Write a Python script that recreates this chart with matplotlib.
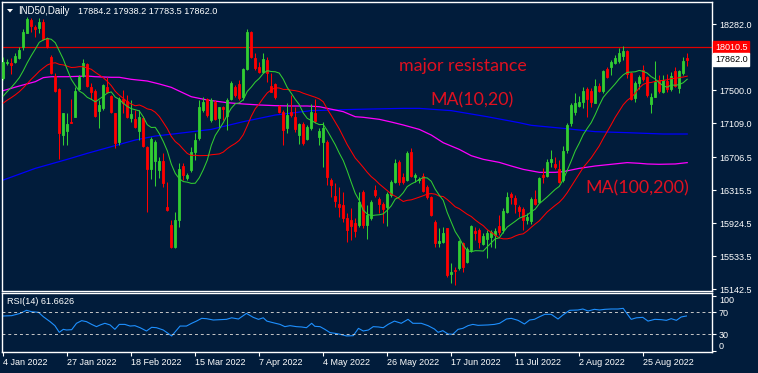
import numpy as np
import matplotlib
matplotlib.use("Agg")
import matplotlib.pyplot as plt
import matplotlib.transforms as mtransforms
from matplotlib.patches import Polygon

# ---------------- data ----------------
dates = ["4 Jan 2022", "27 Jan 2022", "18 Feb 2022", "15 Mar 2022", "7 Apr 2022",
         "4 May 2022", "26 May 2022", "17 Jun 2022", "11 Jul 2022", "2 Aug 2022",
         "25 Aug 2022"]
date_bars = [0, 16, 32, 48, 64, 80, 96, 112, 128, 144, 160]

opens = [17642, 17819, 17819, 17839, 17879, 18017, 18183, 18333, 18254, 18234,
         18313, 18116, 17891, 17669, 17511, 16970, 17022, 17124, 17187, 17511,
         17669, 17811, 17535, 17496, 17255, 17286, 17535, 17432, 17227, 16891,
         17393, 17377, 17168, 17156, 17022, 17168, 16832, 16563, 16662, 16555,
         16662, 16113, 15904, 15639, 15963, 16607, 16457, 16555, 16773, 16931,
         17266, 17393, 17148, 17365, 17168, 17298, 17195, 17393, 17535, 17575,
         17424, 17748, 18195, 17879, 17780, 17721, 17859, 17551, 17575, 17314,
         17247, 17049, 17247, 17187, 16970, 17101, 16919, 17049, 17227, 16943,
         16891, 16891, 16437, 16247, 16153, 16141, 15991, 15963, 15931, 15904,
         16291, 15904, 15983, 16318, 16208, 16153, 16113, 16259, 16417, 16646,
         16476, 16437, 16773, 16469, 16441, 16488, 16358, 16232, 15943, 15686,
         15706, 15864, 15323, 15370, 15390, 15686, 15469, 15607, 15837, 15844,
         15679, 15734, 15765, 15785, 15892, 15844, 16062, 16271, 16220, 16113,
         16089, 15963, 15955, 16208, 16180, 16496, 16484, 16654, 16627, 16563,
         16437, 16792, 17108, 17247, 17314, 17365, 17519, 17496, 17353, 17551,
         17496, 17748, 17772, 17827, 17851, 17906, 17970, 17709, 17405, 17590,
         17740, 17654, 17338, 17424, 17622, 17484, 17610, 17511, 17733, 17523,
         17709, 17884.2]
highs = [17891, 17870, 17879, 17938, 18017, 18222, 18365, 18353, 18274, 18353,
         18341, 18135, 17918, 17701, 17523, 17235, 17227, 17393, 17535, 17681,
         17867, 17819, 17582, 17511, 17385, 17575, 17654, 17444, 17235, 17424,
         17503, 17444, 17385, 17266, 17266, 17195, 16840, 16943, 16911, 16713,
         16753, 16417, 15963, 16062, 16634, 16634, 16524, 16832, 16990, 17385,
         17424, 17405, 17405, 17385, 17306, 17314, 17405, 17610, 17563, 17622,
         17760, 18226, 18207, 17938, 17839, 17938, 17898, 17701, 17582, 17326,
         17266, 17345, 17444, 17298, 17108, 17128, 17089, 17334, 17393, 17049,
         17128, 16911, 16457, 16405, 16358, 16299, 16042, 16101, 15983, 16299,
         16318, 16141, 16200, 16378, 16240, 16180, 16299, 16437, 16682, 16674,
         16516, 16785, 16812, 16516, 16476, 16524, 16378, 16247, 15963, 15864,
         15884, 15872, 15449, 15410, 15726, 15706, 15647, 15904, 15884, 15864,
         15805, 15844, 15844, 15864, 16022, 16101, 16299, 16299, 16259, 16141,
         16113, 16042, 16240, 16318, 16476, 16575, 16682, 16792, 16713, 16674,
         16840, 17108, 17345, 17464, 17432, 17535, 17535, 17523, 17630, 17582,
         17740, 17780, 17859, 17918, 17997, 18025, 17977, 17721, 17610, 17681,
         17800, 17669, 17464, 17847, 17681, 17681, 17693, 17721, 17780, 17740,
         17891, 17938.2]
lows = [17622, 17800, 17693, 17819, 17867, 17977, 18175, 18195, 18135, 18175,
        18096, 17997, 17693, 17484, 16682, 16852, 16852, 17108, 17180, 17503,
        17661, 17543, 17393, 17187, 17049, 17266, 17472, 17227, 16812, 16852,
        17227, 17168, 17128, 17049, 16911, 16832, 16062, 16445, 16366, 16457,
        16358, 16074, 15627, 15627, 15884, 16437, 16437, 16536, 16674, 16911,
        17247, 17187, 17128, 17148, 17069, 17148, 17030, 17385, 17424, 17385,
        17385, 17740, 17879, 17740, 17701, 17701, 17602, 17484, 17393, 17227,
        16852, 16998, 17187, 17010, 16864, 16852, 16911, 17030, 17116, 16852,
        16595, 16378, 16240, 16121, 16002, 15943, 15706, 15726, 15765, 15884,
        15864, 15734, 15963, 16240, 16042, 15923, 15892, 16240, 16397, 16378,
        16390, 16425, 16476, 16417, 16397, 16299, 16212, 16010, 15647, 15647,
        15686, 15291, 15212, 15193, 15370, 15351, 15449, 15588, 15726, 15627,
        15667, 15509, 15647, 15627, 15785, 15805, 16042, 16153, 16042, 16002,
        15844, 15916, 15916, 16141, 16160, 16397, 16476, 16595, 16563, 16405,
        16417, 16753, 17077, 17207, 17298, 17286, 17180, 17306, 17345, 17484,
        17464, 17642, 17681, 17811, 17819, 17859, 17642, 17385, 17365, 17511,
        17614, 17424, 17235, 17417, 17472, 17472, 17484, 17496, 17535, 17464,
        17681, 17783.5]
closes = [17839, 17839, 17800, 17906, 17977, 18195, 18341, 18262, 18222, 18313,
          18104, 18017, 17709, 17496, 16998, 17227, 17101, 17108, 17496, 17654,
          17819, 17551, 17484, 17195, 17322, 17559, 17484, 17247, 16871, 17401,
          17345, 17180, 17219, 17069, 17187, 16840, 16563, 16919, 16891, 16662,
          16405, 16081, 15639, 15963, 16563, 16496, 16496, 16773, 16911, 17306,
          17365, 17207, 17385, 17156, 17298, 17274, 17385, 17582, 17444, 17405,
          17748, 18195, 17891, 17760, 17721, 17867, 17709, 17484, 17417, 17247,
          17030, 17207, 17207, 17037, 17101, 16871, 17069, 17247, 17140, 17022,
          17057, 16476, 16378, 16188, 16113, 15983, 15844, 15892, 15833, 16180,
          15904, 16022, 16180, 16259, 16153, 16089, 16271, 16417, 16634, 16417,
          16417, 16753, 16488, 16496, 16449, 16311, 16232, 16022, 15694, 15714,
          15805, 15311, 15351, 15363, 15718, 15410, 15615, 15892, 15813, 15706,
          15773, 15813, 15825, 15837, 15825, 16074, 16240, 16232, 16153, 16070,
          15963, 16002, 16208, 16153, 16457, 16476, 16654, 16682, 16595, 16417,
          16781, 17085, 17326, 17345, 17365, 17496, 17393, 17365, 17551, 17496,
          17733, 17654, 17839, 17879, 17946, 17970, 17693, 17393, 17590, 17654,
          17630, 17444, 17417, 17602, 17496, 17622, 17511, 17669, 17551, 17733,
          17851, 17862.0]
# closes of the 19 sessions before the first visible bar (for the moving averages)
pre_closes = [17150, 17200, 17250, 17230, 17280, 17300, 17260, 17310, 17340, 17340,
              17300, 17320, 17350, 17380, 17360, 17400, 17420, 17450, 17500]

# MA(100) and MA(200) at given bars
ma100_bars = [0, 4, 8, 10, 12, 16, 21, 23, 27, 29, 32, 36, 39, 42, 47, 51, 56, 60, 64, 68,
              72, 76, 79, 81, 85, 88, 90, 94, 97, 100, 104, 107, 110, 114, 117, 120, 124,
              127, 130, 134, 138, 140, 144, 148, 152, 156, 159, 161, 164, 168, 171]
ma100_vals = [17496, 17551, 17602, 17650, 17661, 17661, 17669, 17661, 17654, 17654,
              17630, 17610, 17575, 17535, 17424, 17385, 17353, 17338, 17326, 17318,
              17314, 17314, 17306, 17286, 17247, 17187, 17180, 17156, 17124, 17089,
              17037, 16970, 16879, 16800, 16725, 16682, 16646, 16603, 16563, 16528,
              16528, 16536, 16575, 16603, 16623, 16643, 16635, 16627, 16623, 16627, 16643]
ma200_bars = [0, 8, 16, 21, 27, 33, 38, 43, 52, 60, 68, 77, 88, 100, 104, 112, 121, 129,
              132, 140, 148, 156, 165, 171]
ma200_vals = [16437, 16575, 16682, 16753, 16832, 16911, 16958, 16985, 17037, 17128,
              17207, 17259, 17274, 17286, 17286, 17259, 17187, 17116, 17085, 17049,
              17010, 16998, 16982, 16982]

# RSI(14)
rsi_bars = [0, 2.1, 4.2, 5.8, 7.1, 8.8, 10, 11.7, 12.9, 14,
            15, 15.8, 17.1, 18.3, 19.6, 20.8, 22.1, 23.3, 24.2, 25.4,
            26.7, 27.9, 29, 30.4, 31.7, 32.9, 34.2, 35.8, 37.1, 38.3,
            40, 42.1, 44.2, 45.8, 47.1, 48.3, 49.6, 50.8, 52.5, 54.2,
            55.8, 57.1, 58.8, 60.8, 62.5, 63.8, 65, 65.9, 67.5, 69.2,
            70.4, 71.7, 73.3, 74.6, 75.8, 77.1, 77.9, 79.2, 80.4, 81.7,
            82.9, 84.2, 85.8, 87.5, 88.8, 90, 91.3, 92.5, 93.8, 95,
            96.2, 97.8, 99.5, 101.2, 102.4, 104.5, 106.2, 107.8, 108.7, 109.9,
            111.2, 112.4, 113.7, 114.9, 116.2, 117.4, 118.7, 121.2, 122.8, 124.1,
            125.8, 127, 128.7, 130.3, 131.6, 132.8, 134.1, 135.4, 137, 138.7,
            139.9, 141.6, 143.7, 144.9, 146.2, 147.8, 149.1, 150.4, 152, 153.7,
            155, 156.2, 157, 158.3, 159.9, 161.2, 162.9, 164.5, 165.8, 167,
            168.3, 169.5, 170.8]
rsi_vals = [63.3, 63.9, 68, 73.6, 71, 70, 62, 53, 45.7, 33.6,
            39, 37.8, 38.4, 50, 54.8, 53, 48, 43.9, 46.9, 50,
            47, 39, 48, 48, 45, 45.7, 42, 36, 42.7, 42,
            37.8, 27, 45, 45, 50, 54, 59, 58.4, 56, 56.6,
            57.2, 60, 57.8, 68, 60.8, 57.2, 60, 54, 51, 48,
            43.9, 45.7, 43.9, 43.3, 42, 50, 44.5, 43.9, 39, 33,
            31.8, 30, 27, 27.5, 40.8, 36, 37.8, 43.9, 43.3, 42,
            48, 54, 50, 57.2, 50, 50, 45.7, 39.6, 33.6, 36.6,
            30.5, 30, 39, 40.8, 45.7, 48, 46.3, 47, 48, 50,
            57.8, 59, 55.4, 48.7, 56, 57.2, 62, 66.3, 66.3, 57.8,
            65, 73.6, 74.2, 76, 72.4, 75.4, 74.2, 75.4, 76, 76,
            77.2, 65, 57.2, 60, 60.8, 54, 57.2, 56.6, 55.4, 58.4,
            55.4, 61.5, 63.3]

resistance = 18010.5
last_price = 17862.0
price_ticks = [18282.0, 17500.0, 17109.0, 16706.5, 16315.5, 15924.5, 15533.5, 15142.5]
rsi_ticks = [100, 70, 30, 0]
title_sym = "IND50,Daily"
title_vals = "17884.2 17938.2 17783.5 17862.0"
rsi_title = "RSI(14) 61.6626"

# ---------------- moving averages ----------------
allc = np.array(pre_closes + closes, dtype=float)
npre = len(pre_closes)

def sma(a, n):
    out = np.full(len(a), np.nan)
    cs = np.cumsum(np.insert(a, 0, 0.0))
    out[n - 1:] = (cs[n:] - cs[:-n]) / n
    return out

ma10 = sma(allc, 10)[npre:]
ma20 = sma(allc, 20)[npre:]

# ---------------- styling ----------------
BG = '#011c3b'
GREEN = '#32CD32'
RED = '#FF0000'
TXT = '#E01020'
W, H = 758, 373
UI = 'Liberation Sans'

fig = plt.figure(figsize=(W / 100, H / 100), dpi=100, facecolor=BG)

def fx(px):
    return px / W

def fy(py):
    return 1 - py / H

ax = fig.add_axes([fx(2), fy(291), fx(712) - fx(2), fy(2) - fy(291)])
ax2 = fig.add_axes([fx(2), fy(352), fx(712) - fx(2), fy(293) - fy(352)])

for a in (ax, ax2):
    a.set_facecolor(BG)
    for s in a.spines.values():
        s.set_color('white')
        s.set_linewidth(1.0)
    a.set_xlim(-0.325, 177.2)

o = np.array(opens, float)
h = np.array(highs, float)
l = np.array(lows, float)
c = np.array(closes, float)
x = np.arange(len(c))
cols = np.where(c >= o, GREEN, RED)

ax.vlines(x, l, h, colors=cols, linewidth=0.75, zorder=3)
ax.bar(x, np.abs(c - o), bottom=np.minimum(o, c), width=0.5, color=cols,
       edgecolor=cols, linewidth=0.6, zorder=3)

ax.plot(ma200_bars, ma200_vals, color='#0000FF', lw=0.9, zorder=2)
ax.plot(ma100_bars, ma100_vals, color='#FF00FF', lw=0.9, zorder=2)
ax.plot(x, ma20, color=RED, lw=0.75, zorder=4)
ax.plot(x, ma10, color=GREEN, lw=0.75, zorder=4)

ax.axhline(resistance, color='#E00000', lw=0.9, zorder=2)

ax.set_ylim(15121.7, 18546.3)
ax.set_xticks([])
ax.yaxis.tick_right()
ax.set_yticks(price_ticks)
ax.set_yticklabels([f"{v:.1f}" for v in price_ticks])
ax.tick_params(axis='y', colors='white', labelcolor='white', length=3, width=0.8,
               labelsize=6.5, pad=2)
for t in ax.get_yticklabels():
    t.set_fontfamily(UI)

trans = mtransforms.blended_transform_factory(ax.transAxes, ax.transData)
ax.text(1.004, resistance, f"{resistance:.1f}", transform=trans, ha='left', va='center',
        fontsize=6.5, family=UI, color='white', clip_on=False, zorder=10,
        bbox=dict(boxstyle='square,pad=0.22', fc='#FF0000', ec='#FF0000'))
ax.text(1.004, last_price, f"{last_price:.1f}", transform=trans, ha='left', va='center',
        fontsize=6.5, family=UI, color='black', clip_on=False, zorder=10,
        bbox=dict(boxstyle='square,pad=0.22', fc='white', ec='white'))

ANN = 'Lato'
ax.text(115.0, 17790, "major resistance", color=TXT, fontsize=12.8, family=ANN,
        ha='center', va='center', zorder=5)
ax.text(117.2, 17383, "MA(10,20)", color=TXT, fontsize=12.8, family=ANN,
        ha='center', va='center', zorder=5)
ax.text(158.5, 16332, "MA(100,200)", color=TXT, fontsize=12.8, family=ANN,
        ha='center', va='center', zorder=5)

# title
fig.text(fx(18), fy(11), title_sym, color='white', fontsize=7, family=UI, va='center')
fig.text(fx(77.5), fy(11), title_vals, color='white', fontsize=6.6, family=UI, va='center')
tri = Polygon([[fx(7), fy(9)], [fx(13), fy(9)], [fx(10), fy(12.5)]], closed=True,
              transform=fig.transFigure, facecolor='white', edgecolor='none')
fig.patches.append(tri)

# RSI panel
ax2.plot(rsi_bars, rsi_vals, color='#1E90FF', lw=0.8)
for lv in (70, 30):
    ax2.axhline(lv, color='#C8C8C8', lw=0.7, ls=(0, (3, 3)))
ax2.set_ylim(-2.2, 105.1)
ax2.yaxis.tick_right()
ax2.set_yticks(rsi_ticks)
ax2.set_yticklabels([str(v) for v in rsi_ticks])
ax2.tick_params(axis='y', colors='white', labelcolor='white', length=3, width=0.8,
                labelsize=6.5, pad=2)
ax2.set_xticks(date_bars)
ax2.set_xticklabels(dates)
ax2.tick_params(axis='x', colors='white', labelcolor='white', length=3, width=0.8,
                labelsize=6.5, pad=1.5)
for t in ax2.get_xticklabels():
    t.set_ha('left')
    t.set_fontfamily(UI)
ylabs = ax2.get_yticklabels()
for t in ylabs:
    t.set_fontfamily(UI)
ylabs[0].set_va('top')
ylabs[-1].set_va('bottom')
ax2.text(0.007, 0.86, rsi_title, transform=ax2.transAxes, color='white', fontsize=6.6,
         family=UI, ha='left', va='center')

fig.savefig("out.png", dpi=100, facecolor=BG)
